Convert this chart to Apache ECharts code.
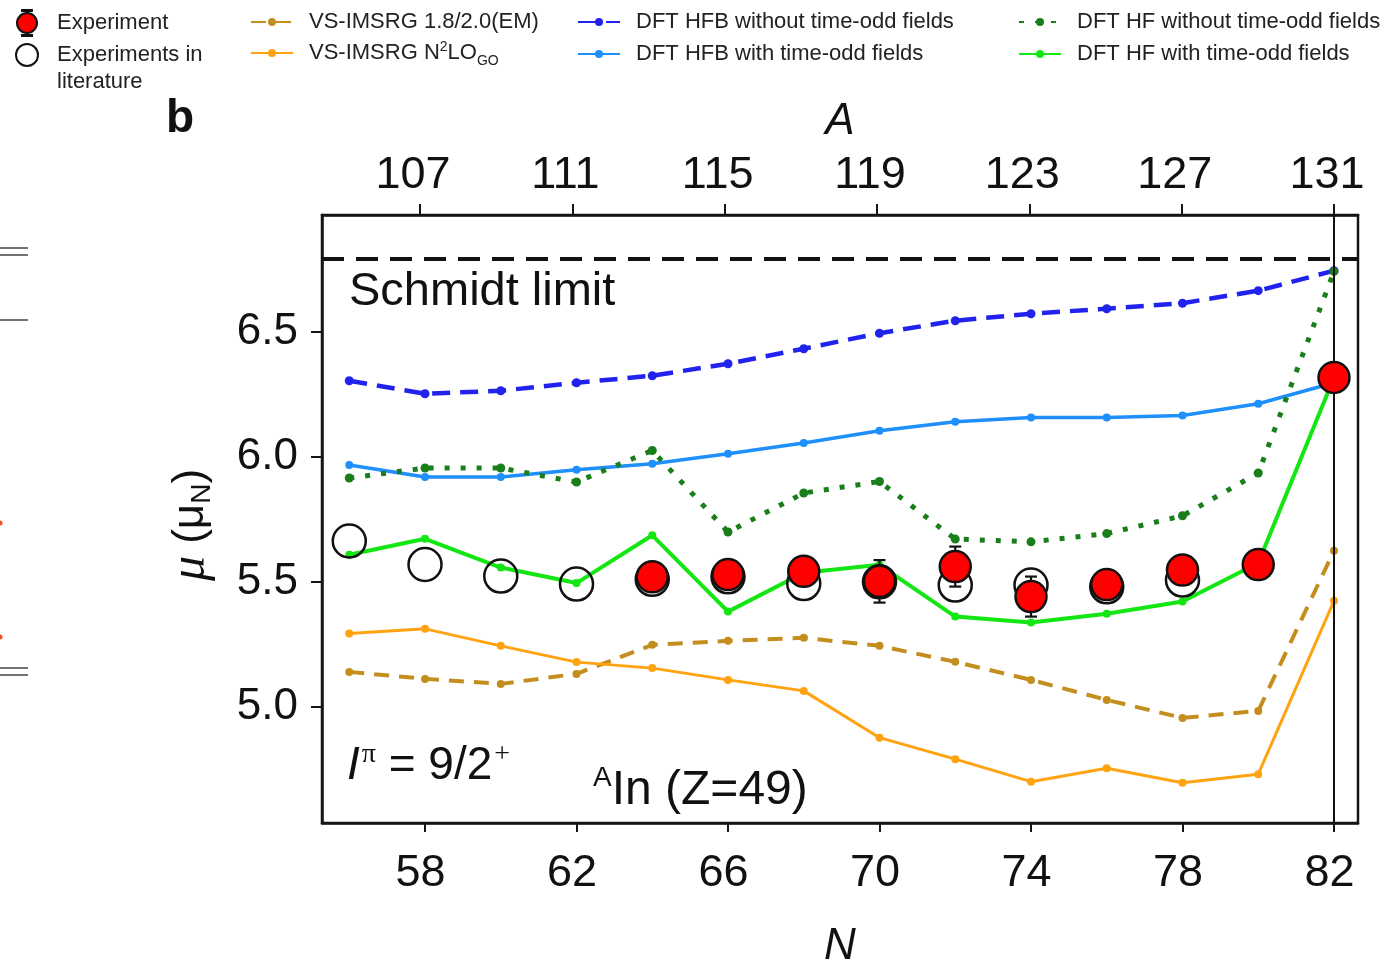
<!DOCTYPE html>
<html>
<head>
<meta charset="utf-8">
<script src="https://cdn.jsdelivr.net/npm/echarts@6/dist/echarts.min.js"></script>
<style>
  html, body { margin: 0; padding: 0; background: #ffffff; }
  #chart { width: 1396px; height: 961px; }
</style>
</head>
<body>
<div id="chart"></div>
<script>
// Magnetic dipole moments of 9/2+ ground states in indium isotopes (Z = 49)
const neutronNumbers = [56, 58, 60, 62, 64, 66, 68, 70, 72, 74, 76, 78, 80, 82];
const imsrgEM   = [5.140, 5.112, 5.092, 5.132, 5.248, 5.264, 5.276, 5.244, 5.180, 5.108, 5.028, 4.956, 4.984, 5.624];
const imsrgGO   = [5.293, 5.312, 5.244, 5.179, 5.155, 5.108, 5.064, 4.877, 4.791, 4.701, 4.755, 4.697, 4.731, 5.424];
const hfbNoOdd  = [6.304, 6.252, 6.264, 6.296, 6.324, 6.372, 6.432, 6.494, 6.544, 6.572, 6.592, 6.614, 6.664, 6.744];
const hfbOdd    = [5.967, 5.919, 5.919, 5.948, 5.972, 6.012, 6.055, 6.104, 6.140, 6.157, 6.157, 6.165, 6.212, 6.296];
const hfNoOdd   = [5.915, 5.955, 5.955, 5.899, 6.025, 5.699, 5.855, 5.901, 5.671, 5.660, 5.693, 5.764, 5.935, 6.741];
const hfOdd     = [5.608, 5.672, 5.557, 5.495, 5.686, 5.381, 5.536, 5.568, 5.361, 5.337, 5.372, 5.421, 5.575, 6.317];

const litN  = [56, 58, 60, 62, 64, 66, 68, 70, 72, 74, 76, 78];
const litMu = [5.663, 5.569, 5.523, 5.491, 5.510, 5.520, 5.493, 5.500, 5.487, 5.487, 5.480, 5.507];

const expN   = [64, 66, 68, 70, 72, 74, 76, 78, 80, 82];
const expMu  = [5.520, 5.529, 5.542, 5.502, 5.561, 5.441, 5.489, 5.547, 5.569, 6.317];
const expErr = [0.010, 0.010, 0.010, 0.085, 0.080, 0.080, 0.010, 0.010, 0.010, 0.010];

const schmidtLimit = 6.793;
const shellClosureN = 82;

const nTicks  = [58, 62, 66, 70, 74, 78, 82];
const aTicks  = [107, 111, 115, 119, 123, 127, 131];
const muTicks = [5.0, 5.5, 6.0, 6.5];
const muTickLabels = ['5.0', '5.5', '6.0', '6.5'];

const SANS = '"Liberation Sans", Arial, Helvetica, sans-serif';
const SERIF = '"Liberation Serif", "Times New Roman", serif';

// legend glyph: filled marker with small error-bar caps above and below
const EXP_ICON = 'path://M1,13A10,10 0 1,1 21,13A10,10 0 1,1 1,13Z' +
  'M6,0L16,0L16,1L6,1Z M10.5,1L11.5,1L11.5,3L10.5,3Z' +
  'M6,25L16,25L16,26L6,26Z M10.5,23L11.5,23L11.5,25L10.5,25Z';

const chart = echarts.init(document.getElementById('chart'), null, { renderer: 'canvas' });

function theoryLine(name, values, color, width, dash, symbolSize, z) {
  return {
    name: name,
    type: 'line',
    xAxisIndex: 0,
    data: neutronNumbers.map((n, i) => [n, values[i]]),
    symbol: 'circle',
    symbolSize: symbolSize,
    showSymbol: true,
    lineStyle: { color: color, width: width, type: dash, cap: 'butt' },
    itemStyle: { color: color },
    emphasis: { disabled: true },
    z: z
  };
}

const legendText = { fontFamily: SANS, fontSize: 22, color: '#222', lineHeight: 22 };

const option = {
  animation: false,
  backgroundColor: '#ffffff',
  grid: {
    left: 322, top: 215, width: 1036, height: 608,
    containLabel: false, outerBoundsMode: 'none',
    show: true, borderColor: '#151515', borderWidth: 2.5, backgroundColor: 'transparent'
  },
  legend: [
    {
      left: 15, top: 9, orient: 'vertical', padding: 0, itemGap: -22.5,
      itemWidth: 22, itemHeight: 26, selectedMode: false,
      textStyle: Object.assign({}, legendText, { lineHeight: 27, padding: [0, 0, 0, 14] }),
      formatter: function (name) {
        return name === 'Experiments in literature' ? '\nExperiments in\nliterature' : name;
      },
      data: [{ name: 'Experiment', icon: EXP_ICON }, { name: 'Experiments in literature' }]
    },
    {
      left: 250, top: 11, orient: 'vertical', padding: 0, itemGap: 5,
      itemWidth: 42, itemHeight: 10, selectedMode: false,
      textStyle: Object.assign({}, legendText, {
        padding: [0, 0, 0, 11],
        rich: {
          m: { fontFamily: SANS, fontSize: 22, color: '#222', lineHeight: 30 },
          sup: { fontFamily: SANS, fontSize: 14, color: '#222', lineHeight: 14, verticalAlign: 'top', padding: [2, 0, 0, 0] },
          sub: { fontFamily: SANS, fontSize: 14, color: '#222', lineHeight: 14, verticalAlign: 'bottom' }
        }
      }),
      formatter: function (name) {
        return name === 'VS-IMSRG N2LO_GO' ? '{m|VS-IMSRG N}{sup|2}{m|LO}{sub|GO}' : name;
      },
      data: ['VS-IMSRG 1.8/2.0(EM)', 'VS-IMSRG N2LO_GO']
    },
    {
      left: 577, top: 11, orient: 'vertical', padding: 0, itemGap: 10,
      itemWidth: 42, itemHeight: 10, selectedMode: false,
      textStyle: Object.assign({}, legendText, { padding: [0, 0, 0, 11] }),
      data: ['DFT HFB without time-odd fields', 'DFT HFB with time-odd fields']
    },
    {
      left: 1018, top: 11, orient: 'vertical', padding: 0, itemGap: 10,
      itemWidth: 42, itemHeight: 10, selectedMode: false,
      textStyle: Object.assign({}, legendText, { padding: [0, 0, 0, 11] }),
      data: ['DFT HF without time-odd fields', 'DFT HF with time-odd fields']
    }
  ],
  xAxis: [
    {
      type: 'value', position: 'bottom', min: 55.28, max: 82.634,
      name: 'N', nameLocation: 'middle', nameGap: 102,
      nameTextStyle: { fontFamily: SANS, fontStyle: 'italic', fontSize: 44, color: '#111' },
      axisLine: { show: true, lineStyle: { color: '#151515', width: 2.5 } },
      axisTick: { show: true, customValues: nTicks, length: 9, lineStyle: { color: '#151515', width: 2 } },
      axisLabel: { customValues: nTicks, fontFamily: SANS, fontSize: 45, color: '#111', margin: 28, padding: [0, 9, 0, 0] },
      splitLine: { show: false }
    },
    {
      // mass number A = N + 49 along the top edge
      type: 'value', position: 'top', min: 104.427, max: 131.63,
      name: 'A', nameLocation: 'middle', nameGap: 71,
      nameTextStyle: { fontFamily: SANS, fontStyle: 'italic', fontSize: 44, color: '#111' },
      axisLine: { show: true, lineStyle: { color: '#151515', width: 2.5 } },
      axisTick: { show: true, customValues: aTicks, length: 11, lineStyle: { color: '#151515', width: 2 } },
      axisLabel: { customValues: aTicks, fontFamily: SANS, fontSize: 45, color: '#111', margin: 17, padding: [0, 14, 0, 0] },
      splitLine: { show: false }
    }
  ],
  yAxis: [
    {
      type: 'value', min: 4.5358, max: 6.9666,
      name: '{mu|μ} (μ{s|N})', nameLocation: 'middle', nameGap: 106, nameRotate: 90,
      nameTextStyle: {
        fontFamily: SANS, fontSize: 44, color: '#111', padding: [0, 12, 0, 0],
        rich: {
          mu: { fontFamily: SERIF, fontStyle: 'italic', fontSize: 50, color: '#111' },
          s: { fontFamily: SANS, fontSize: 28, color: '#111', verticalAlign: 'bottom', lineHeight: 28 }
        }
      },
      axisLine: { show: true, lineStyle: { color: '#151515', width: 2.5 } },
      axisTick: { show: true, customValues: muTicks, length: 11, lineStyle: { color: '#151515', width: 2 } },
      axisLabel: {
        customValues: muTicks, fontFamily: SANS, fontSize: 44, color: '#111', margin: 24, padding: [12, 0, 0, 0],
        formatter: function (v) { return muTickLabels[muTicks.indexOf(v)]; }
      },
      splitLine: { show: false }
    }
  ],
  series: [
    theoryLine('VS-IMSRG 1.8/2.0(EM)', imsrgEM, '#c48e1e', 4, [15, 10], 8, 2),
    theoryLine('VS-IMSRG N2LO_GO', imsrgGO, '#ffa310', 3, 'solid', 8, 2),
    theoryLine('DFT HFB without time-odd fields', hfbNoOdd, '#2222ee', 4.5, [18, 10], 9, 3),
    theoryLine('DFT HFB with time-odd fields', hfbOdd, '#1e8ffb', 3.5, 'solid', 8, 3),
    theoryLine('DFT HF without time-odd fields', hfNoOdd, '#1a7e1a', 5, [5, 11], 9, 4),
    theoryLine('DFT HF with time-odd fields', hfOdd, '#14e614', 4, 'solid', 8, 4),
    {
      name: 'Experiments in literature',
      type: 'scatter',
      data: litN.map((n, i) => [n, litMu[i]]),
      symbol: 'circle', symbolSize: 33,
      itemStyle: { color: 'rgba(255,255,255,0)', borderColor: '#111', borderWidth: 2.5, opacity: 1 },
      emphasis: { disabled: true },
      z: 5,
      markLine: {
        silent: true, symbol: 'none', animation: false,
        label: { show: false },
        data: [
          { yAxis: schmidtLimit, lineStyle: { color: '#111', width: 4, type: [22, 12] } },
          { xAxis: shellClosureN, lineStyle: { color: '#111', width: 2, type: 'solid' } }
        ]
      }
    },
    {
      name: 'Experiment uncertainty',
      type: 'custom',
      z: 6,
      data: expN.map((n, i) => [n, expMu[i], expErr[i]]),
      encode: { x: 0, y: 1 },
      renderItem: function (params, api) {
        const n = api.value(0), mu = api.value(1), err = api.value(2);
        const hi = api.coord([n, mu + err]);
        const lo = api.coord([n, mu - err]);
        const hw = 6;
        const st = { stroke: '#111', lineWidth: 2.2 };
        return {
          type: 'group',
          children: [
            { type: 'line', shape: { x1: hi[0], y1: hi[1], x2: lo[0], y2: lo[1] }, style: st },
            { type: 'line', shape: { x1: hi[0] - hw, y1: hi[1], x2: hi[0] + hw, y2: hi[1] }, style: st },
            { type: 'line', shape: { x1: lo[0] - hw, y1: lo[1], x2: lo[0] + hw, y2: lo[1] }, style: st }
          ]
        };
      }
    },
    {
      name: 'Experiment',
      type: 'scatter',
      data: expN.map((n, i) => [n, expMu[i]]),
      symbol: 'circle', symbolSize: 31,
      itemStyle: { color: '#ff0000', borderColor: '#111', borderWidth: 2.5, opacity: 1 },
      emphasis: { disabled: true },
      z: 7
    }
  ],
  graphic: [
    { type: 'text', left: 166, top: 96,
      style: { text: 'b', font: 'bold 46px ' + SANS, fill: '#111' } },
    { type: 'text', x: 349, y: 292,
      style: { text: 'Schmidt limit', font: '47px ' + SANS, fill: '#111', verticalAlign: 'middle' } },
    { type: 'text', x: 347, y: 766,
      style: {
        text: '{i|I}{p|π}{t| = 9/2}{p|+}', verticalAlign: 'middle', fill: '#111',
        rich: {
          i: { fontFamily: SANS, fontStyle: 'italic', fontSize: 46, lineHeight: 50, fill: '#111' },
          p: { fontFamily: SERIF, fontSize: 28, lineHeight: 50, verticalAlign: 'top', fill: '#111', padding: [0, 0, 0, 2] },
          t: { fontFamily: SANS, fontSize: 46, lineHeight: 50, fill: '#111' }
        }
      } },
    { type: 'text', x: 593, y: 791,
      style: {
        text: '{a|A}{b|In (Z=49)}', verticalAlign: 'middle', fill: '#111',
        rich: {
          a: { fontFamily: SANS, fontSize: 28, lineHeight: 54, verticalAlign: 'top', fill: '#111' },
          b: { fontFamily: SANS, fontSize: 48, lineHeight: 54, fill: '#111' }
        }
      } },
    // edge of the neighbouring panel
    { type: 'line', shape: { x1: 0, y1: 248, x2: 28, y2: 248 }, style: { stroke: '#444', lineWidth: 1.5 } },
    { type: 'line', shape: { x1: 0, y1: 255, x2: 28, y2: 255 }, style: { stroke: '#444', lineWidth: 1.5 } },
    { type: 'line', shape: { x1: 0, y1: 320, x2: 28, y2: 320 }, style: { stroke: '#444', lineWidth: 1.5 } },
    { type: 'line', shape: { x1: 0, y1: 668, x2: 28, y2: 668 }, style: { stroke: '#444', lineWidth: 1.5 } },
    { type: 'line', shape: { x1: 0, y1: 675, x2: 28, y2: 675 }, style: { stroke: '#444', lineWidth: 1.5 } },
    { type: 'circle', shape: { cx: 0, cy: 523, r: 2.5 }, style: { fill: '#ff4a1a' } },
    { type: 'circle', shape: { cx: 0, cy: 637, r: 2.5 }, style: { fill: '#ff4a1a' } }
  ]
};

chart.setOption(option);
</script>
</body>
</html>
